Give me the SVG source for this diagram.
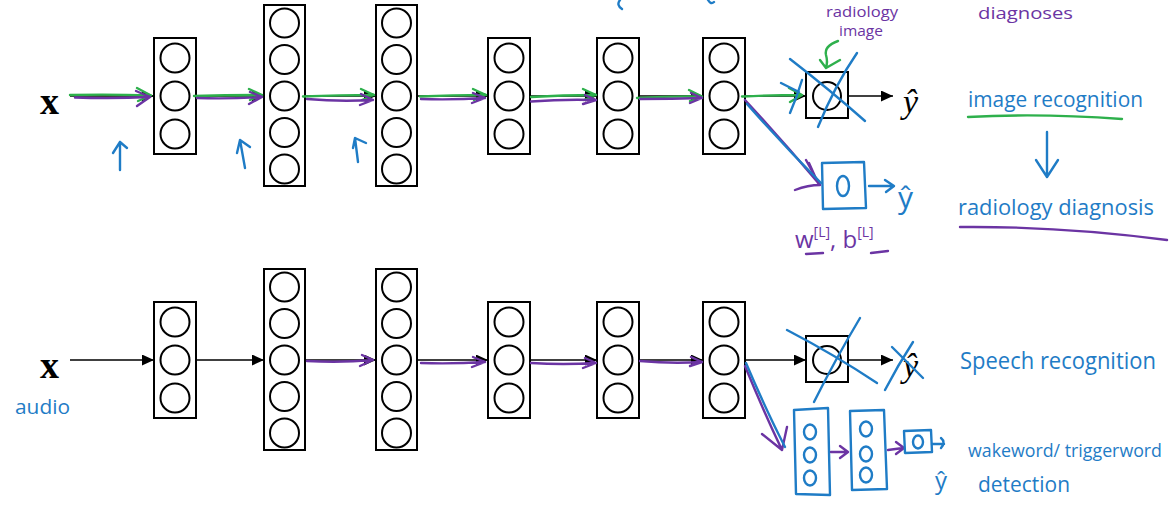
<svg xmlns="http://www.w3.org/2000/svg" width="1170" height="509" viewBox="0 0 1170 509">
<defs>
<style>
.box{fill:#fff;stroke:#000;stroke-width:2}
.neu{fill:none;stroke:#000;stroke-width:2}
.ln{stroke:#000;stroke-width:1.6;fill:none}
.hb{fill:none;stroke:#1f7cc6;stroke-width:2.4;stroke-linecap:round;stroke-linejoin:round}
.hg{fill:none;stroke:#2eb04c;stroke-width:2.4;stroke-linecap:round;stroke-linejoin:round}
.hp{fill:none;stroke:#6b34a3;stroke-width:2.4;stroke-linecap:round;stroke-linejoin:round}
.sx{font-family:"Liberation Serif",serif;font-weight:bold;font-size:38px;fill:#000}
.sy{font-family:"Liberation Serif",serif;font-style:italic;font-size:34px;fill:#000}
.tb{font-family:"Open Sans","Liberation Sans",sans-serif;fill:#1f7cc6}
.tp{font-family:"Open Sans","Liberation Sans",sans-serif;fill:#6b34a3}
</style>
<marker id="ah" markerUnits="userSpaceOnUse" markerWidth="13" markerHeight="12" refX="12" refY="5.5" orient="auto"><path d="M0,0 L12,5.5 L0,11 z" fill="#000"/></marker>
</defs>
<rect width="1170" height="509" fill="#fff"/>

<!-- ===== TOP ROW NODES ===== -->
<g id="top-x"><text class="sx" x="40" y="114">x</text></g>
<g id="top-l1"><rect class="box" x="154" y="38" width="42" height="116"/>
<circle class="neu" cx="175" cy="58" r="14.5"/><circle class="neu" cx="175" cy="96" r="14.5"/><circle class="neu" cx="175" cy="134" r="14.5"/></g>
<g id="top-l2"><rect class="box" x="264" y="5" width="41" height="181"/>
<circle class="neu" cx="284.5" cy="23" r="14.5"/><circle class="neu" cx="284.5" cy="59.5" r="14.5"/><circle class="neu" cx="284.5" cy="96" r="14.5"/><circle class="neu" cx="284.5" cy="132.5" r="14.5"/><circle class="neu" cx="284.5" cy="169" r="14.5"/></g>
<g id="top-l3"><rect class="box" x="376" y="5" width="41" height="181"/>
<circle class="neu" cx="396.5" cy="23" r="14.5"/><circle class="neu" cx="396.5" cy="59.5" r="14.5"/><circle class="neu" cx="396.5" cy="96" r="14.5"/><circle class="neu" cx="396.5" cy="132.5" r="14.5"/><circle class="neu" cx="396.5" cy="169" r="14.5"/></g>
<g id="top-l4"><rect class="box" x="488" y="38" width="42" height="116"/>
<circle class="neu" cx="509" cy="58" r="14.5"/><circle class="neu" cx="509" cy="96" r="14.5"/><circle class="neu" cx="509" cy="134" r="14.5"/></g>
<g id="top-l5"><rect class="box" x="597" y="38" width="42" height="116"/>
<circle class="neu" cx="618" cy="58" r="14.5"/><circle class="neu" cx="618" cy="96" r="14.5"/><circle class="neu" cx="618" cy="134" r="14.5"/></g>
<g id="top-l6"><rect class="box" x="703" y="38" width="42" height="116"/>
<circle class="neu" cx="724" cy="58" r="14.5"/><circle class="neu" cx="724" cy="96" r="14.5"/><circle class="neu" cx="724" cy="134" r="14.5"/></g>
<g id="top-out"><rect class="box" x="806" y="72" width="42" height="46"/>
<circle class="neu" cx="827" cy="96" r="14"/></g>
<g id="top-yhat"><text class="sy" x="903" y="113">ŷ</text></g>

<!-- ===== BOTTOM ROW NODES ===== -->
<g id="bot-x"><text class="sx" x="40" y="378">x</text></g>
<g id="bot-l1"><rect class="box" x="154" y="302" width="42" height="116"/>
<circle class="neu" cx="175" cy="322" r="14.5"/><circle class="neu" cx="175" cy="360" r="14.5"/><circle class="neu" cx="175" cy="398" r="14.5"/></g>
<g id="bot-l2"><rect class="box" x="264" y="269" width="41" height="181"/>
<circle class="neu" cx="284.5" cy="287" r="14.5"/><circle class="neu" cx="284.5" cy="323.5" r="14.5"/><circle class="neu" cx="284.5" cy="360" r="14.5"/><circle class="neu" cx="284.5" cy="396.5" r="14.5"/><circle class="neu" cx="284.5" cy="433" r="14.5"/></g>
<g id="bot-l3"><rect class="box" x="376" y="269" width="41" height="181"/>
<circle class="neu" cx="396.5" cy="287" r="14.5"/><circle class="neu" cx="396.5" cy="323.5" r="14.5"/><circle class="neu" cx="396.5" cy="360" r="14.5"/><circle class="neu" cx="396.5" cy="396.5" r="14.5"/><circle class="neu" cx="396.5" cy="433" r="14.5"/></g>
<g id="bot-l4"><rect class="box" x="488" y="302" width="42" height="116"/>
<circle class="neu" cx="509" cy="322" r="14.5"/><circle class="neu" cx="509" cy="360" r="14.5"/><circle class="neu" cx="509" cy="398" r="14.5"/></g>
<g id="bot-l5"><rect class="box" x="597" y="302" width="42" height="116"/>
<circle class="neu" cx="618" cy="322" r="14.5"/><circle class="neu" cx="618" cy="360" r="14.5"/><circle class="neu" cx="618" cy="398" r="14.5"/></g>
<g id="bot-l6"><rect class="box" x="703" y="302" width="42" height="116"/>
<circle class="neu" cx="724" cy="322" r="14.5"/><circle class="neu" cx="724" cy="360" r="14.5"/><circle class="neu" cx="724" cy="398" r="14.5"/></g>
<g id="bot-out"><rect class="box" x="806" y="336" width="42" height="46"/>
<circle class="neu" cx="827" cy="360" r="14"/></g>
<g id="bot-yhat"><text class="sy" x="903" y="377">ŷ</text></g>

<!-- ===== CONNECTORS ===== -->
<g id="connectors">
<g class="black">
<line class="ln" x1="70" y1="96" x2="154" y2="96" marker-end="url(#ah)"/>
<line class="ln" x1="196" y1="96" x2="264" y2="96" marker-end="url(#ah)"/>
<line class="ln" x1="305" y1="96" x2="376" y2="96" marker-end="url(#ah)"/>
<line class="ln" x1="417" y1="96" x2="488" y2="96" marker-end="url(#ah)"/>
<line class="ln" x1="530" y1="96" x2="597" y2="96" marker-end="url(#ah)"/>
<line class="ln" x1="639" y1="96" x2="703" y2="96" marker-end="url(#ah)"/>
<line class="ln" x1="745" y1="96" x2="806" y2="96" marker-end="url(#ah)"/>
<line class="ln" x1="848" y1="96" x2="893" y2="96" marker-end="url(#ah)"/>
<line class="ln" x1="70" y1="360" x2="154" y2="360" marker-end="url(#ah)"/>
<line class="ln" x1="196" y1="360" x2="264" y2="360" marker-end="url(#ah)"/>
<line class="ln" x1="305" y1="360" x2="376" y2="360" marker-end="url(#ah)"/>
<line class="ln" x1="417" y1="360" x2="488" y2="360" marker-end="url(#ah)"/>
<line class="ln" x1="530" y1="360" x2="597" y2="360" marker-end="url(#ah)"/>
<line class="ln" x1="639" y1="360" x2="703" y2="360" marker-end="url(#ah)"/>
<line class="ln" x1="745" y1="360" x2="806" y2="360" marker-end="url(#ah)"/>
<line class="ln" x1="848" y1="360" x2="893" y2="360" marker-end="url(#ah)"/>
</g>
<g id="green-path">
<path class="hg" d="M70,95 Q110,94 151,95.5 M137,88 L151,95.5 L138,101"/>
<path class="hg" d="M194,96 Q228,95 262,95 M249,89 L262,95 L250,100"/>
<path class="hg" d="M303,96.5 Q340,95 374,95 M361,89 L374,95 L362,100"/>
<path class="hg" d="M420,96.5 Q452,95 486,95 M473,89 L486,95 L474,100"/>
<path class="hg" d="M531,97 Q563,95 596,95 M583,89 L596,95 L584,100"/>
<path class="hg" d="M637,98 Q670,96 702,96.5 M689,90 L702,96.5 L690,101"/>
<path class="hg" d="M742,96.5 Q772,95 802,95 M789,88 L802,95 L790,102"/>
</g>
<g id="purple-path">
<path class="hp" d="M75,97.5 Q112,99 150,97 M137,106 L150,97 L136,91"/>
<path class="hp" d="M197,98 Q230,99 262,97 M249,104 L262,97 L250,92"/>
<path class="hp" d="M307,99 Q340,102 373,100 M360,105 L373,100 L361,94"/>
<path class="hp" d="M421,99 Q453,100 485,98 M472,103 L485,98 L473,93"/>
<path class="hp" d="M531,101.5 Q563,99 596,100 M583,104 L596,100 L585,95"/>
<path class="hp" d="M640,99 Q672,99 702,98 M690,103 L702,98 L691,93"/>
<path class="hp" d="M745,100 Q782,140 820,185 M806,160 Q813,173 820,185 M795,190 Q808,185 820,185 M809,163 L818,183"/>
<path class="hb" d="M747,104 Q784,146 821,183"/>
<path class="hp" d="M307,361 Q340,363 373,360 M360,366 L373,360 L362,355"/>
<path class="hp" d="M421,363 Q453,364 485,362 M472,367 L485,362 L473,357"/>
<path class="hp" d="M531,363 Q563,365 596,363 M583,368 L596,363 L585,358"/>
<path class="hp" d="M640,361 Q672,364 702,362 M690,366 L702,362 L691,357"/>
<path class="hp" d="M745,366 Q763,410 782,450 M762,434 L782,450 M787,427 L782,450"/>
<path class="hb" d="M746,363 Q766,410 785,447"/>
</g>
</g>

<!-- ===== HANDWRITTEN ANNOTATIONS ===== -->
<g id="up-arrows">
<path class="hb" d="M120,170 L120,142 M113,153 L120,142 L127,148"/>
<path class="hb" d="M245,168 L240,140 M237,153 L240,140 L250,147"/>
<path class="hb" d="M358,162 L355,138 M353,148 L355,138 L366,143"/>
</g>

<g id="top-cut-text">
<path class="hb" d="M620,0 Q616,5 622,9"/>
<path class="hb" d="M708,0 Q711,5 714,2"/>
<text class="tp" x="826" y="17" font-size="15" textLength="72" lengthAdjust="spacingAndGlyphs">radiology</text>
<text class="tp" x="839" y="36" font-size="14" textLength="44" lengthAdjust="spacingAndGlyphs">image</text>
<text class="tp" x="978" y="19" font-size="17" textLength="95" lengthAdjust="spacingAndGlyphs">diagnoses</text>
<path class="hg" d="M838,41 Q824,46 826,55 Q828,62 826,67 M820,60 L826,68 L840,60"/>
</g>

<g id="top-cross">
<path class="hb" d="M790,59 Q830,90 865,121"/>
<path class="hb" d="M857,53 Q835,85 818,127"/>
<path class="hb" d="M781,83 L799,92 M802,80 Q797,97 790,113"/>
</g>

<g id="new-out">
<path class="hb" d="M822,163 L864,162 L866,208 L823,209 Z"/>
<ellipse class="hb" cx="843" cy="186" rx="6" ry="10"/>
<path class="hb" d="M869,186 L893,186 M885,180 L894,186 L886,192"/>
<text class="tb" x="898" y="208" font-size="30">ŷ</text>
</g>
<g id="new-params">
<text class="tp" x="795" y="248" font-size="24">w<tspan dy="-11" font-size="14">[L]</tspan><tspan dy="11" font-size="24">, b</tspan><tspan dy="-11" font-size="14">[L]</tspan></text>
<path class="hp" d="M806,254 L823,253 M871,253 L888,251"/>
</g>

<g id="task1">
<text class="tb" x="968" y="107" font-size="21" textLength="175" lengthAdjust="spacingAndGlyphs">image recognition</text>
<path class="hg" d="M968,117 Q1040,113 1122,119"/>
<path class="hb" d="M1047,132 L1047,175 M1036,160 L1047,177 L1058,160"/>
<text class="tb" x="958" y="215" font-size="22" textLength="196" lengthAdjust="spacingAndGlyphs">radiology diagnosis</text>
<path class="hp" d="M960,227 Q1060,226 1167,240"/>
</g>

<g id="bot-annot">
<text class="tb" x="15" y="414" font-size="20" textLength="55" lengthAdjust="spacingAndGlyphs">audio</text>
<path class="hb" d="M787,330 Q835,355 877,383"/>
<path class="hb" d="M860,318 Q835,360 814,402"/>
<path class="hb" d="M892,347 L923,378 M913,342 Q898,365 885,390"/>
<text class="tb" x="960" y="369" font-size="23" textLength="196" lengthAdjust="spacingAndGlyphs">Speech recognition</text>
</g>

<g id="wake-net">
<path class="hb" d="M794,410 L828,408 L830,495 L796,494 Z"/>
<ellipse class="hb" cx="810" cy="432" rx="6" ry="7.5"/>
<ellipse class="hb" cx="810" cy="455" rx="6" ry="7.5"/>
<ellipse class="hb" cx="810" cy="478" rx="6" ry="7.5"/>
<path class="hb" d="M850,411 L884,410 L887,489 L852,490 Z"/>
<ellipse class="hb" cx="866" cy="429" rx="6" ry="7.5"/>
<ellipse class="hb" cx="866" cy="454" rx="6" ry="7.5"/>
<ellipse class="hb" cx="866" cy="475" rx="6" ry="7.5"/>
<path class="hp" d="M831,452 L847,452 M840,446 L848,452 L840,458"/>
<path class="hp" d="M888,450 L903,448 M896,442 L904,448 L896,454"/>
<path class="hb" d="M904,431 L931,430 L932,452 L905,453 Z"/>
<ellipse class="hb" cx="918" cy="442" rx="5" ry="6.5"/>
<path class="hb" d="M932,444 L944,444 M941,438 Q946,442 941,448"/>
<text class="tb" x="935" y="489" font-size="24">ŷ</text>
<text class="tb" x="968" y="457" font-size="18.5" textLength="194" lengthAdjust="spacingAndGlyphs">wakeword/ triggerword</text>
<text class="tb" x="978" y="492" font-size="21" textLength="92" lengthAdjust="spacingAndGlyphs">detection</text>
</g>
</svg>
